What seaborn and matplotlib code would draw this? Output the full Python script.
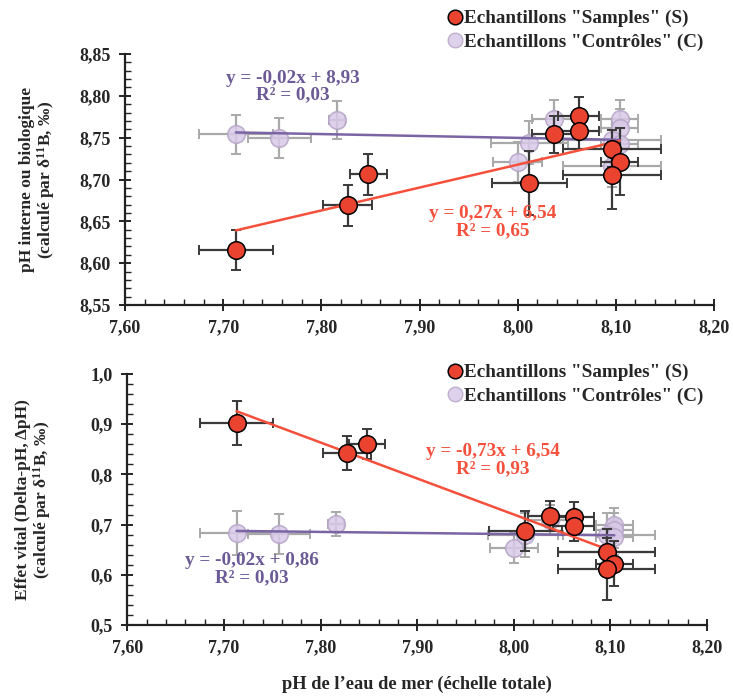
import numpy as np
import matplotlib
matplotlib.use("Agg")
import matplotlib.pyplot as plt
from matplotlib.ticker import MultipleLocator, FuncFormatter
from matplotlib.lines import Line2D
import seaborn as sns

# seawater pH (x) for the two groups
ph_sea_S = [7.713, 7.827, 7.848, 8.012, 8.037, 8.062, 8.062, 8.096, 8.104, 8.096]
ph_sea_S_err = [0.038, 0.025, 0.019, 0.038, 0.022, 0.021, 0.021, 0.050, 0.019, 0.050]
ph_sea_C = [7.713, 7.757, 7.816, 8.000, 8.012, 8.037, 8.104, 8.104, 8.096, 8.104, 8.096]
ph_sea_C_err = [0.038, 0.032, 0.008, 0.025, 0.039, 0.022, 0.019, 0.019, 0.050, 0.019, 0.050]

# top panel: internal pH
ph_bio_S = [8.616, 8.669, 8.706, 8.696, 8.754, 8.776, 8.758, 8.737, 8.721, 8.705]
ph_bio_S_err = [0.024, 0.024, 0.024, 0.038, 0.022, 0.023, 0.022, 0.022, 0.040, 0.040]
ph_bio_C = [8.754, 8.750, 8.771, 8.721, 8.744, 8.772, 8.772, 8.761, 8.747, 8.743, 8.716]
ph_bio_C_err = [0.023, 0.024, 0.023, 0.024, 0.026, 0.023, 0.023, 0.023, 0.025, 0.023, 0.025]

# bottom panel: vital effect (delta pH)
dph_S = [0.903, 0.842, 0.860, 0.687, 0.718, 0.716, 0.698, 0.646, 0.622, 0.612]
dph_S_err = [0.044, 0.034, 0.030, 0.040, 0.030, 0.030, 0.030, 0.045, 0.045, 0.062]
dph_C = [0.684, 0.681, 0.701, 0.653, 0.679, 0.709, 0.699, 0.689, 0.679, 0.675, 0.646]
dph_C_err = [0.044, 0.040, 0.024, 0.030, 0.044, 0.030, 0.035, 0.035, 0.045, 0.035, 0.035]

eq_top_C = "y = -0,02x + 8,93\nR² = 0,03"
eq_top_S = "y = 0,27x + 6,54\nR² = 0,65"
eq_bot_S = "y = -0,73x + 6,54\nR² = 0,93"
eq_bot_C = "y = -0,02x + 0,86\nR² = 0,03"

lab_S = 'Echantillons "Samples" (S)'
lab_C = 'Echantillons "Contrôles" (C)'

sns.set_style("ticks")
plt.rcParams["font.family"] = ["Liberation Serif", "DejaVu Serif"]
plt.rcParams["font.weight"] = "bold"
plt.rcParams["mathtext.fontset"] = "custom"
plt.rcParams["mathtext.rm"] = "Liberation Serif:bold"
plt.rcParams["mathtext.it"] = "Liberation Serif:bold"

red = "#ea4330"
red_line = "#f4503c"
lav = "#d9c9e8"
lav_edge = "#b7a6c8"
purple = "#7a64a4"
txt_purple = "#6b5a96"

fig = plt.figure(figsize=(7.33, 6.96), dpi=100)
ax1 = fig.add_axes([125 / 733, 1 - 305 / 696, 589 / 733, 251 / 696])
ax2 = fig.add_axes([127.4 / 733, 1 - 625 / 696, 579.6 / 733, 251 / 696])


def draw_panel(ax, yS, yS_err, yC, yC_err):
    # controls
    ax.errorbar(ph_sea_C, yC, xerr=ph_sea_C_err, yerr=yC_err, fmt="none",
                ecolor="#a9a9a9", elinewidth=1.6, capsize=3.5, capthick=1.4, zorder=1)
    sns.scatterplot(x=ph_sea_C, y=yC, ax=ax, s=160, color=lav, edgecolor=lav_edge,
                    linewidth=1.2, alpha=0.85, zorder=2)
    # samples
    ax.errorbar(ph_sea_S, yS, xerr=ph_sea_S_err, yerr=yS_err, fmt="none",
                ecolor="#3a3a3a", elinewidth=1.6, capsize=3.5, capthick=1.4, zorder=3)
    # regression lines
    sns.regplot(x=np.array(ph_sea_C), y=np.array(yC), ax=ax, ci=None, scatter=False,
                truncate=True, line_kws=dict(color=purple, lw=1.8, zorder=4))
    sns.regplot(x=np.array(ph_sea_S), y=np.array(yS), ax=ax, ci=None, scatter=False,
                truncate=True, line_kws=dict(color=red_line, lw=1.8, zorder=4))
    sns.scatterplot(x=ph_sea_S, y=yS, ax=ax, s=160, color=red, edgecolor="black",
                    linewidth=1.1, zorder=5)

    ax.set_xlim(7.60, 8.20)
    ax.xaxis.set_major_locator(MultipleLocator(0.1))
    ax.xaxis.set_minor_locator(MultipleLocator(0.02))
    ax.xaxis.set_major_formatter(FuncFormatter(lambda v, p: f"{v:.2f}".replace(".", ",")))
    sns.despine(ax=ax)
    for s in ["left", "bottom"]:
        ax.spines[s].set_linewidth(1.6)
        ax.spines[s].set_color("#222222")
    ax.tick_params(which="major", direction="inout", length=9, width=1.4,
                   labelsize=13, color="#222222")
    ax.tick_params(axis="x", which="major", pad=6)
    ax.tick_params(axis="y", which="major", pad=6)
    ax.tick_params(which="minor", direction="in", length=4, width=1.0, color="#222222")
    ax.set_xlabel("")
    ax.set_ylabel("")


draw_panel(ax1, ph_bio_S, ph_bio_S_err, ph_bio_C, ph_bio_C_err)
ax1.set_ylim(8.55, 8.85)
ax1.yaxis.set_major_locator(MultipleLocator(0.05))
ax1.yaxis.set_minor_locator(MultipleLocator(0.01))
ax1.yaxis.set_major_formatter(FuncFormatter(lambda v, p: f"{v:.2f}".replace(".", ",")))
ax1.set_ylabel("pH interne ou biologique\n(calculé par δ$^{11}$B, ‰)", fontsize=12.5,
               fontweight="bold", labelpad=16, linespacing=1.0)

draw_panel(ax2, dph_S, dph_S_err, dph_C, dph_C_err)
ax2.set_ylim(0.5, 1.0)
ax2.yaxis.set_major_locator(MultipleLocator(0.1))
ax2.yaxis.set_minor_locator(MultipleLocator(0.02))
ax2.yaxis.set_major_formatter(FuncFormatter(lambda v, p: f"{v:.1f}".replace(".", ",")))
ax2.set_ylabel("Effet vital (Delta-pH, ΔpH)\n(calculé par δ$^{11}$B, ‰)", fontsize=12.5,
               fontweight="bold", labelpad=27, linespacing=1.0)
ax2.set_xlabel("pH de l’eau de mer (échelle totale)", fontsize=13.2, fontweight="bold",
               labelpad=14)

# equations
ax1.text(7.771, 8.811, eq_top_C, color=txt_purple, fontsize=13.8, fontweight="bold",
         ha="center", va="center", linespacing=1.0)
ax1.text(7.975, 8.649, eq_top_S, color=red_line, fontsize=13.8, fontweight="bold",
         ha="center", va="center", linespacing=1.0)
ax2.text(7.978, 0.829, eq_bot_S, color=red_line, fontsize=13.8, fontweight="bold",
         ha="center", va="center", linespacing=1.0)
ax2.text(7.729, 0.612, eq_bot_C, color=txt_purple, fontsize=13.8, fontweight="bold",
         ha="center", va="center", linespacing=1.0)

# legends
handles = [
    Line2D([], [], ls="none", marker="o", ms=10.5, mfc=red, mec="black", mew=1.1),
    Line2D([], [], ls="none", marker="o", ms=10.5, mfc=lav, mec=lav_edge, mew=1.0, alpha=0.85),
]
for top_px, ax in [(10, ax1), (364, ax2)]:
    ax.legend(handles, [lab_S, lab_C], loc="upper left",
              bbox_to_anchor=(448 / 733, 1 - top_px / 696), bbox_transform=fig.transFigure,
              frameon=False, handlelength=0.7, handletextpad=0.15,
              labelspacing=0.3, borderaxespad=0, borderpad=0,
              prop=dict(family=["Liberation Serif"], weight="bold", size=13.8))

fig.savefig("out.png", dpi=100)
